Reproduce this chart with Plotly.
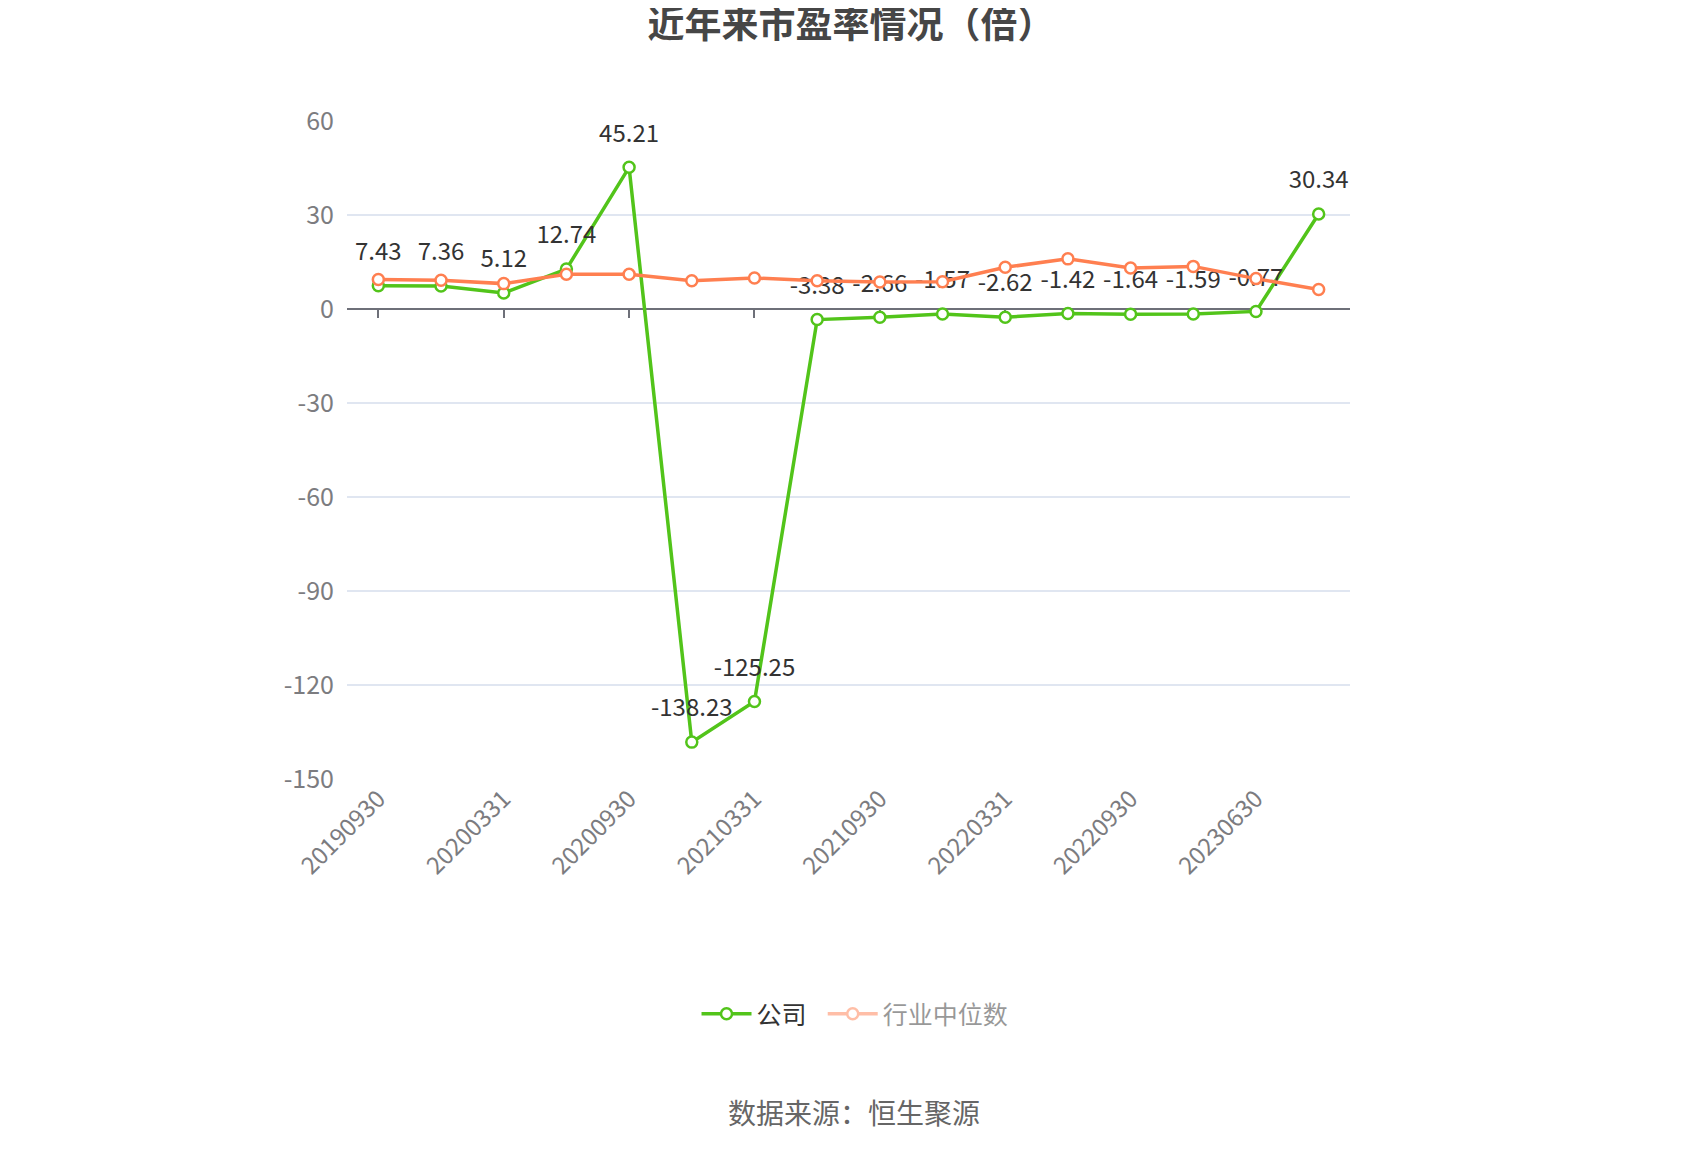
import plotly.graph_objects as go

# report periods (only every other one gets a label on the axis)
periods = ["20190930", "20191231", "20200331", "20200630", "20200930", "20201231",
           "20210331", "20210630", "20210930", "20211231", "20220331", "20220630",
           "20220930", "20230331", "20230630", "20230930"]
label_periods = periods[::2]

company_pe = [7.43, 7.36, 5.12, 12.74, 45.21, -138.23, -125.25, -3.38, -2.66,
              -1.57, -2.62, -1.42, -1.64, -1.59, -0.77, 30.34]
industry_median = [9.4, 9.2, 8.1, 11.1, 11.1, 9.0, 9.9, 9.0, 8.6, 8.7,
                   13.3, 16.0, 13.1, 13.6, 9.7, 6.2]

y_ticks = [-150, -120, -90, -60, -30, 0, 30, 60]

GREEN = "#52c41a"
ORANGE = "#ff7f50"
AXIS_GRAY = "#7c7c80"
FONT = "Noto Sans CJK SC"

fig = go.Figure()

# trailing nbsp just widens the gap to the next legend item
fig.add_trace(go.Scatter(
    x=periods, y=company_pe, name="公司\u00a0\u00a0",
    mode="lines+markers",
    line=dict(color=GREEN, width=3.5),
    marker=dict(symbol="circle", size=11, color="white", line=dict(color=GREEN, width=2.5)),
))

# value labels: transparent big markers push the text further above the points
fig.add_trace(go.Scatter(
    x=periods, y=company_pe, mode="markers+text", showlegend=False, hoverinfo="skip",
    marker=dict(size=30, opacity=0),
    text=["%.2f" % v for v in company_pe], textposition="top center",
    textfont=dict(size=24, color="#333333", family=FONT),
    cliponaxis=False,
))

# median line sits on the overlay axis (so it draws above the company line)
fig.add_trace(go.Scatter(
    x=periods, y=industry_median, name="行业中位数",
    xaxis="x2", mode="lines+markers", showlegend=False,
    line=dict(color=ORANGE, width=3.5),
    marker=dict(symbol="circle", size=11, color="white", line=dict(color=ORANGE, width=2.5)),
))

# legend entry shown faded, like the original
fig.add_trace(go.Scatter(
    x=periods, y=industry_median, name="行业中位数",
    mode="lines+markers", visible="legendonly",
    line=dict(color=ORANGE, width=3.5),
    marker=dict(symbol="circle", size=11, color="white", line=dict(color=ORANGE, width=2.5)),
))

y_min, y_max = -150, 60
zero_pos = (0 - y_min) / (y_max - y_min)

fig.update_layout(
    width=1700, height=1150,
    paper_bgcolor="white", plot_bgcolor="white",
    margin=dict(l=339, r=358, t=113, b=379),
    font=dict(family=FONT, color=AXIS_GRAY),
    title=dict(text="<b>近年来市盈率情况（倍）</b>", x=843 / 1700, xanchor="center",
               y=1 - 17 / 1150, yanchor="middle",
               font=dict(size=37, color="#464646", family=FONT)),
    xaxis=dict(
        type="category", categoryorder="array", categoryarray=periods,
        range=[-0.5, len(periods) - 0.5],
        tickmode="array", tickvals=label_periods, ticktext=label_periods,
        tickangle=-45, ticks="", showline=False, showgrid=False, zeroline=False,
        tickfont=dict(size=24, color=AXIS_GRAY),
    ),
    xaxis2=dict(
        type="category", categoryorder="array", categoryarray=periods,
        overlaying="x", matches="x", anchor="free", position=zero_pos,
        tickmode="array", tickvals=label_periods, showticklabels=False,
        ticks="outside", ticklen=8, tickwidth=2, tickcolor="#6E7079",
        showline=True, linecolor="#6E7079", linewidth=2,
        showgrid=False, zeroline=False, layer="below traces",
    ),
    yaxis=dict(
        range=[y_min, y_max], tickmode="array", tickvals=y_ticks,
        ticktext=[str(t) for t in y_ticks],
        showgrid=True, gridcolor="#E0E6F1", gridwidth=1.5, zeroline=False,
        showline=False, ticks="", ticklen=0, ticklabelstandoff=12,
        tickfont=dict(size=25, color=AXIS_GRAY),
    ),
    legend=dict(
        orientation="h", x=0.5065, xanchor="center", y=(771 - 1006) / 658, yanchor="middle",
        font=dict(size=25, color="#333333", family=FONT),
        itemwidth=50, bgcolor="rgba(0,0,0,0)",
    ),
    annotations=[dict(
        text="数据来源：恒生聚源", xref="paper", yref="paper",
        x=0.5055, y=(771 - 1104) / 658, xanchor="center", yanchor="middle",
        showarrow=False, font=dict(size=28, color="#666666", family=FONT),
    )],
)

fig.write_html("out.html")
